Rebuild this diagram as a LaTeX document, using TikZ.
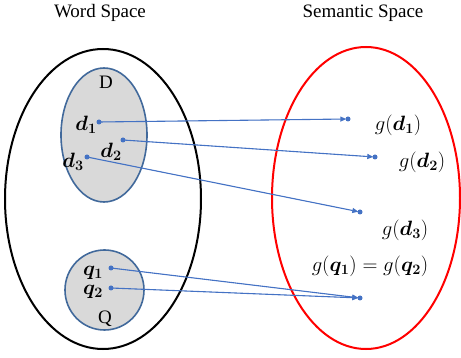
\documentclass[tikz,border=0pt]{standalone}
\usepackage{amsmath}
\usepackage{amssymb}
\usepackage{fontspec}
\setmainfont{Liberation Serif}
\usetikzlibrary{shapes.geometric, arrows.meta, positioning}

\definecolor{linkblue}{RGB}{68,114,196}
\definecolor{setblue}{RGB}{65,105,155}
\definecolor{setgray}{RGB}{217,217,217}

\begin{document}
\begin{tikzpicture}[
    x=1pt, y=-1pt,
    font=\fontsize{19}{22}\selectfont,
    space/.style={draw, ellipse, line width=2pt, inner sep=0pt},
    subset/.style={draw=setblue, fill=setgray, ellipse, line width=1.6pt, inner sep=0pt},
    dot/.style={circle, fill=linkblue, inner sep=0pt, minimum size=5pt},
    lbl/.style={inner sep=0pt},
    mlbl/.style={inner sep=0pt, font=\fontsize{22}{24}\selectfont},
    link/.style={-{Triangle[length=6pt,width=5pt]}, draw=linkblue, fill=linkblue, line width=1.1pt, shorten >=-1pt}
]
    \useasboundingbox (0,0) rectangle (461,358);

    % Titles
    \node[lbl] (wordtitle) at (100,13) {Word Space};
    \node[lbl] (semtitle) at (363,13) {Semantic Space};

    % Spaces
    \node[space, minimum width=196pt, minimum height=300pt] (wordspace) at (103,199) {};
    \node[space, draw=red, minimum width=188pt, minimum height=302pt] (semspace) at (366,198) {};

    % Subsets D and Q
    \node[subset, minimum width=86pt, minimum height=134pt] (setD) at (104,135) {};
    \node[subset, minimum width=79pt, minimum height=80pt] (setQ) at (104.5,290) {};
    \node[lbl] (labD) at (106,82) {D};
    \node[lbl] (labQ) at (105,319) {Q};

    % Word points
    \node[dot] (d1) at (99,122) {};
    \node[dot] (d2) at (123,140) {};
    \node[dot] (d3) at (87,157) {};
    \node[dot] (q1) at (111,268) {};
    \node[dot] (q2) at (111,288) {};
    \node[mlbl] (labd1) at (86,125) {$\boldsymbol{d_1}$};
    \node[mlbl] (labd2) at (111,152) {$\boldsymbol{d_2}$};
    \node[mlbl] (labd3) at (73,162) {$\boldsymbol{d_3}$};
    \node[mlbl] (labq1) at (93,273) {$\boldsymbol{q_1}$};
    \node[mlbl] (labq2) at (93,292) {$\boldsymbol{q_2}$};

    % Semantic points
    \node[dot] (gd1) at (348,119) {};
    \node[dot] (gd2) at (375,157) {};
    \node[dot] (gd3) at (360,212) {};
    \node[dot] (gq) at (360,298) {};
    \node[mlbl] (labgd1) at (398,125) {$g(\boldsymbol{d_1})$};
    \node[mlbl] (labgd2) at (422,162) {$g(\boldsymbol{d_2})$};
    \node[mlbl] (labgd3) at (405,230) {$g(\boldsymbol{d_3})$};
    \node[mlbl] (labgq) at (370,266) {$g(\boldsymbol{q_1}) = g(\boldsymbol{q_2})$};

    % Mappings
    \draw[link] (d1.center) -- (gd1);
    \draw[link] (d2.center) -- (gd2);
    \draw[link] (d3.center) -- (gd3);
    \draw[link] (q1.center) -- (gq);
    \draw[link] (q2.center) -- (gq);
\end{tikzpicture}
\end{document}
